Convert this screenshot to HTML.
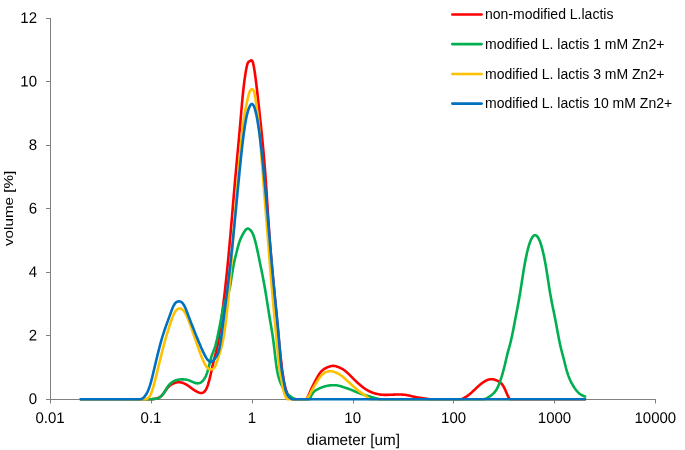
<!DOCTYPE html>
<html><head><meta charset="utf-8"><title>chart</title>
<style>html,body{margin:0;padding:0;background:#fff}svg{display:block}text{font-family:"Liberation Sans",sans-serif;fill:#000}</style>
</head><body>
<svg width="685" height="450" viewBox="0 0 685 450">
<rect width="685" height="450" fill="#fff"/>
<path d="M50.5,18 V403.5" stroke="#808080" stroke-width="1" fill="none"/>
<path d="M46,399.5 H656" stroke="#808080" stroke-width="1" fill="none"/>
<path d="M46,335.5 H50.5" stroke="#808080" stroke-width="1"/>
<path d="M46,272.5 H50.5" stroke="#808080" stroke-width="1"/>
<path d="M46,208.5 H50.5" stroke="#808080" stroke-width="1"/>
<path d="M46,145.5 H50.5" stroke="#808080" stroke-width="1"/>
<path d="M46,81.5 H50.5" stroke="#808080" stroke-width="1"/>
<path d="M46,18.5 H50.5" stroke="#808080" stroke-width="1"/>
<path d="M151.5,399.5 V403.5" stroke="#808080" stroke-width="1"/>
<path d="M252.5,399.5 V403.5" stroke="#808080" stroke-width="1"/>
<path d="M353.5,399.5 V403.5" stroke="#808080" stroke-width="1"/>
<path d="M453.5,399.5 V403.5" stroke="#808080" stroke-width="1"/>
<path d="M554.5,399.5 V403.5" stroke="#808080" stroke-width="1"/>
<path d="M655.5,399.5 V403.5" stroke="#808080" stroke-width="1"/>
<path d="M452.3,14.5 H481.6" stroke="#FF0000" stroke-width="2.6" stroke-linecap="round"/>
<path d="M452.3,44.1 H481.6" stroke="#00B050" stroke-width="2.6" stroke-linecap="round"/>
<path d="M452.3,74.0 H481.6" stroke="#FFC000" stroke-width="2.6" stroke-linecap="round"/>
<path d="M452.3,103.6 H481.6" stroke="#0070C0" stroke-width="2.6" stroke-linecap="round"/>
<path d="M80.8,399.3 L150.0,399.3 150.5,399.3 151.0,399.2 151.5,399.2 152.0,399.2 152.5,399.1 153.0,399.1 153.5,399.0 154.0,399.0 154.5,398.9 155.0,398.8 155.5,398.8 156.0,398.7 156.5,398.5 157.0,398.4 157.5,398.2 158.0,398.0 158.5,397.8 159.0,397.6 159.5,397.3 160.0,396.9 160.5,396.6 161.0,396.1 161.5,395.7 162.0,395.2 162.5,394.6 163.0,394.1 163.5,393.4 164.0,392.8 164.5,392.1 165.0,391.3 165.5,390.6 166.0,389.9 166.5,389.2 167.0,388.5 167.5,387.9 168.0,387.3 168.5,386.8 169.0,386.3 169.5,385.8 170.0,385.4 170.5,385.1 171.0,384.7 171.5,384.4 172.0,384.2 172.5,383.9 173.0,383.7 173.5,383.4 174.0,383.2 174.5,383.0 175.0,382.9 175.5,382.7 176.0,382.6 176.5,382.5 177.0,382.4 177.5,382.3 178.0,382.3 178.5,382.3 179.0,382.3 179.5,382.3 180.0,382.3 180.5,382.4 181.0,382.5 181.5,382.6 182.0,382.7 182.5,382.8 183.0,383.0 183.5,383.2 184.0,383.4 184.5,383.6 185.0,383.9 185.5,384.1 186.0,384.4 186.5,384.7 187.0,385.0 187.5,385.3 188.0,385.7 188.5,386.0 189.0,386.4 189.5,386.7 190.0,387.1 190.5,387.4 191.0,387.8 191.5,388.2 192.0,388.5 192.5,388.9 193.0,389.3 193.5,389.6 194.0,389.9 194.5,390.3 195.0,390.6 195.5,390.9 196.0,391.2 196.5,391.5 197.0,391.7 197.5,392.0 198.0,392.2 198.5,392.4 199.0,392.6 199.5,392.8 200.0,392.9 200.5,393.0 201.0,393.0 201.5,393.0 202.0,392.9 202.5,392.8 203.0,392.6 203.5,392.4 204.0,392.0 204.5,391.5 205.0,391.0 205.5,390.3 206.0,389.4 206.5,388.4 207.0,387.3 207.5,386.0 208.0,384.6 208.5,383.0 209.0,381.2 209.5,379.3 210.0,377.3 210.5,375.2 211.0,373.0 211.5,370.7 212.0,368.4 212.5,366.1 213.0,363.9 213.5,361.8 214.0,359.8 214.5,357.9 215.0,356.1 215.5,354.2 216.0,352.3 216.5,350.2 217.0,348.0 217.5,345.5 218.0,342.7 218.5,339.7 219.0,336.5 219.5,333.2 220.0,329.6 220.5,326.0 221.0,322.3 221.5,318.5 222.0,314.6 222.5,310.7 223.0,306.8 223.5,302.7 224.0,298.6 224.5,294.4 225.0,290.0 225.5,285.5 226.0,280.9 226.5,276.1 227.0,271.3 227.5,266.3 228.0,261.2 228.5,256.0 229.0,250.6 229.5,245.2 230.0,239.6 230.5,234.0 231.0,228.3 231.5,222.4 232.0,216.6 232.5,210.7 233.0,204.7 233.5,198.8 234.0,192.9 234.5,187.1 235.0,181.4 235.5,175.8 236.0,170.2 236.5,164.8 237.0,159.4 237.5,154.0 238.0,148.6 238.5,143.2 239.0,137.8 239.5,132.2 240.0,126.6 240.5,120.8 241.0,115.0 241.5,109.1 242.0,103.4 242.5,98.0 243.0,93.0 243.5,88.4 244.0,84.1 244.5,80.2 245.0,76.6 245.5,73.4 246.0,70.4 246.5,67.7 247.0,65.5 247.5,63.8 248.0,62.6 248.5,61.9 249.0,61.6 249.5,61.3 250.0,61.1 250.5,60.7 251.0,60.4 251.5,60.3 252.0,60.6 252.5,61.4 253.0,62.8 253.5,65.0 254.0,67.6 254.5,70.6 255.0,74.0 255.5,77.7 256.0,81.6 256.5,85.7 257.0,90.0 257.5,94.4 258.0,98.9 258.5,103.5 259.0,108.0 259.5,112.7 260.0,117.3 260.5,122.0 261.0,126.7 261.5,131.5 262.0,136.3 262.5,141.3 263.0,146.5 263.5,151.9 264.0,157.6 264.5,163.6 265.0,169.9 265.5,176.6 266.0,183.7 266.5,191.2 267.0,199.0 267.5,206.8 268.0,214.6 268.5,222.3 269.0,229.7 269.5,236.8 270.0,243.4 270.5,249.7 271.0,255.7 271.5,261.4 272.0,266.9 272.5,272.3 273.0,277.5 273.5,282.7 274.0,287.9 274.5,293.2 275.0,298.5 275.5,303.8 276.0,309.2 276.5,314.6 277.0,320.0 277.5,325.3 278.0,330.6 278.5,335.8 279.0,341.0 279.5,346.0 280.0,350.9 280.5,355.6 281.0,360.2 281.5,364.5 282.0,368.6 282.5,372.4 283.0,375.8 283.5,378.9 284.0,381.7 284.5,384.1 285.0,386.3 285.5,388.2 286.0,389.9 286.5,391.4 287.0,392.8 287.5,393.9 288.0,394.9 288.5,395.8 289.0,396.5 289.5,397.1 290.0,397.6 290.5,398.1 291.0,398.4 291.5,398.7 292.0,398.9 292.5,399.1 293.0,399.3 L306.3,399.3 306.8,398.5 307.3,397.7 307.8,396.8 308.3,395.9 308.8,394.9 309.3,393.7 309.8,392.5 310.3,391.3 310.8,390.1 311.3,388.9 311.8,387.8 312.3,386.8 312.8,385.7 313.3,384.8 313.8,383.8 314.3,382.9 314.8,381.9 315.3,381.0 315.8,380.0 316.3,379.1 316.8,378.2 317.3,377.3 317.8,376.4 318.3,375.5 318.8,374.7 319.3,374.0 319.8,373.3 320.3,372.6 320.8,372.0 321.3,371.4 321.8,370.9 322.3,370.5 322.8,370.0 323.3,369.6 323.8,369.3 324.3,368.9 324.8,368.6 325.3,368.3 325.8,368.1 326.3,367.8 326.8,367.6 327.3,367.3 327.8,367.1 328.3,366.9 328.8,366.8 329.3,366.6 329.8,366.5 330.3,366.3 330.8,366.2 331.3,366.1 331.8,366.0 332.3,365.9 332.8,365.9 333.3,365.9 333.8,365.9 334.3,366.0 334.8,366.0 335.3,366.1 335.8,366.2 336.3,366.4 336.8,366.5 337.3,366.7 337.8,366.9 338.3,367.1 338.8,367.3 339.3,367.5 339.8,367.7 340.3,367.9 340.8,368.2 341.3,368.4 341.8,368.7 342.3,368.9 342.8,369.2 343.3,369.6 343.8,369.9 344.3,370.2 344.8,370.6 345.3,371.0 345.8,371.4 346.3,371.8 346.8,372.3 347.3,372.7 347.8,373.2 348.3,373.6 348.8,374.1 349.3,374.6 349.8,375.1 350.3,375.6 350.8,376.1 351.3,376.6 351.8,377.1 352.3,377.6 352.8,378.1 353.3,378.6 353.8,379.1 354.3,379.6 354.8,380.1 355.3,380.6 355.8,381.1 356.3,381.6 356.8,382.0 357.3,382.5 357.8,382.9 358.3,383.4 358.8,383.8 359.3,384.3 359.8,384.7 360.3,385.1 360.8,385.6 361.3,386.0 361.8,386.4 362.3,386.8 362.8,387.1 363.3,387.5 363.8,387.9 364.3,388.3 364.8,388.6 365.3,388.9 365.8,389.3 366.3,389.6 366.8,389.9 367.3,390.2 367.8,390.5 368.3,390.8 368.8,391.0 369.3,391.3 369.8,391.5 370.3,391.7 370.8,391.9 371.3,392.2 371.8,392.4 372.3,392.5 372.8,392.7 373.3,392.9 373.8,393.1 374.3,393.2 374.8,393.4 375.3,393.5 375.8,393.7 376.3,393.8 376.8,393.9 377.3,394.0 377.8,394.1 378.3,394.2 378.8,394.3 379.3,394.4 379.8,394.5 380.3,394.6 380.8,394.6 381.3,394.7 381.8,394.7 382.3,394.8 382.8,394.8 383.3,394.8 383.8,394.9 384.3,394.9 384.8,394.9 385.3,394.9 385.8,394.9 386.3,394.9 386.8,394.9 387.3,394.9 387.8,394.9 388.3,394.9 388.8,394.8 389.3,394.8 389.8,394.8 390.3,394.8 390.8,394.8 391.3,394.7 391.8,394.7 392.3,394.7 392.8,394.7 393.3,394.6 393.8,394.6 394.3,394.6 394.8,394.6 395.3,394.6 395.8,394.5 396.3,394.5 396.8,394.5 397.3,394.5 397.8,394.5 398.3,394.5 398.8,394.5 399.3,394.5 399.8,394.5 400.3,394.5 400.8,394.5 401.3,394.5 401.8,394.6 402.3,394.6 402.8,394.6 403.3,394.7 403.8,394.7 404.3,394.8 404.8,394.8 405.3,394.9 405.8,394.9 406.3,395.0 406.8,395.1 407.3,395.2 407.8,395.3 408.3,395.4 408.8,395.5 409.3,395.6 409.8,395.7 410.3,395.9 410.8,396.0 411.3,396.1 411.8,396.2 412.3,396.4 412.8,396.5 413.3,396.6 413.8,396.7 414.3,396.8 414.8,397.0 415.3,397.1 415.8,397.2 416.3,397.2 416.8,397.3 417.3,397.4 417.8,397.5 418.3,397.5 418.8,397.6 419.3,397.7 419.8,397.8 420.3,397.8 420.8,397.9 421.3,398.0 421.8,398.0 422.3,398.1 422.8,398.2 423.3,398.3 423.8,398.3 424.3,398.4 424.8,398.5 425.3,398.6 425.8,398.6 426.3,398.7 426.8,398.8 427.3,398.9 427.8,399.0 428.3,399.0 428.8,399.1 429.3,399.2 429.8,399.3 430.0,399.3 L461.5,399.3 462.0,399.0 462.5,398.8 463.0,398.5 463.5,398.3 464.0,398.0 464.5,397.7 465.0,397.4 465.5,397.1 466.0,396.8 466.5,396.5 467.0,396.2 467.5,395.9 468.0,395.5 468.5,395.1 469.0,394.7 469.5,394.3 470.0,393.9 470.5,393.5 471.0,393.1 471.5,392.6 472.0,392.2 472.5,391.7 473.0,391.2 473.5,390.7 474.0,390.3 474.5,389.8 475.0,389.3 475.5,388.8 476.0,388.4 476.5,387.9 477.0,387.4 477.5,386.9 478.0,386.5 478.5,386.0 479.0,385.6 479.5,385.2 480.0,384.7 480.5,384.3 481.0,383.9 481.5,383.5 482.0,383.2 482.5,382.8 483.0,382.5 483.5,382.1 484.0,381.8 484.5,381.5 485.0,381.2 485.5,380.9 486.0,380.6 486.5,380.4 487.0,380.2 487.5,380.0 488.0,379.8 488.5,379.6 489.0,379.5 489.5,379.4 490.0,379.3 490.5,379.2 491.0,379.2 491.5,379.2 492.0,379.2 492.5,379.3 493.0,379.3 493.5,379.4 494.0,379.5 494.5,379.6 495.0,379.8 495.5,380.0 496.0,380.2 496.5,380.4 497.0,380.6 497.5,380.8 498.0,381.1 498.5,381.4 499.0,381.7 499.5,382.0 500.0,382.4 500.5,382.8 501.0,383.2 501.5,383.7 502.0,384.3 502.5,384.9 503.0,385.6 503.5,386.4 504.0,387.3 504.5,388.3 505.0,389.4 505.5,390.5 506.0,391.7 506.5,392.8 507.0,394.0 507.5,395.1 508.0,396.1 508.5,397.1 509.0,398.0 509.5,398.8 509.8,399.3 L585.1,399.3" fill="none" stroke="#FF0000" stroke-width="2.6" stroke-linecap="round" stroke-linejoin="round"/>
<path d="M80.8,399.3 L150.0,399.3 150.5,399.3 151.0,399.2 151.5,399.2 152.0,399.1 152.5,399.1 153.0,399.1 153.5,399.0 154.0,399.0 154.5,398.9 155.0,398.9 155.5,398.8 156.0,398.8 156.5,398.7 157.0,398.6 157.5,398.4 158.0,398.3 158.5,398.1 159.0,397.8 159.5,397.6 160.0,397.2 160.5,396.8 161.0,396.4 161.5,395.9 162.0,395.4 162.5,394.8 163.0,394.2 163.5,393.4 164.0,392.7 164.5,391.9 165.0,391.0 165.5,390.2 166.0,389.3 166.5,388.5 167.0,387.7 167.5,387.0 168.0,386.3 168.5,385.6 169.0,385.0 169.5,384.5 170.0,384.0 170.5,383.5 171.0,383.1 171.5,382.7 172.0,382.3 172.5,382.0 173.0,381.7 173.5,381.4 174.0,381.1 174.5,380.9 175.0,380.6 175.5,380.5 176.0,380.3 176.5,380.1 177.0,380.0 177.5,379.9 178.0,379.7 178.5,379.7 179.0,379.6 179.5,379.5 180.0,379.5 180.5,379.4 181.0,379.4 181.5,379.4 182.0,379.4 182.5,379.4 183.0,379.4 183.5,379.4 184.0,379.4 184.5,379.5 185.0,379.5 185.5,379.6 186.0,379.6 186.5,379.7 187.0,379.8 187.5,379.9 188.0,380.1 188.5,380.2 189.0,380.4 189.5,380.6 190.0,380.8 190.5,381.0 191.0,381.2 191.5,381.4 192.0,381.6 192.5,381.9 193.0,382.1 193.5,382.3 194.0,382.5 194.5,382.7 195.0,382.9 195.5,383.0 196.0,383.2 196.5,383.3 197.0,383.3 197.5,383.4 198.0,383.3 198.5,383.3 199.0,383.2 199.5,383.1 200.0,382.9 200.5,382.6 201.0,382.3 201.5,382.0 202.0,381.6 202.5,381.1 203.0,380.6 203.5,380.0 204.0,379.3 204.5,378.6 205.0,377.7 205.5,376.8 206.0,375.7 206.5,374.4 207.0,373.1 207.5,371.5 208.0,369.9 208.5,368.0 209.0,366.0 209.5,363.9 210.0,361.9 210.5,359.9 211.0,358.1 211.5,356.4 212.0,355.0 212.5,353.6 213.0,352.4 213.5,351.1 214.0,349.8 214.5,348.5 215.0,347.0 215.5,345.3 216.0,343.4 216.5,341.4 217.0,339.2 217.5,336.9 218.0,334.5 218.5,332.1 219.0,329.6 219.5,327.1 220.0,324.5 220.5,321.9 221.0,319.2 221.5,316.6 222.0,314.0 222.5,311.5 223.0,309.1 223.5,306.8 224.0,304.8 224.5,303.1 225.0,301.5 225.5,300.2 226.0,298.9 226.5,297.7 227.0,296.6 227.5,295.4 228.0,294.2 228.5,292.8 229.0,291.1 229.5,289.2 230.0,286.9 230.5,284.1 231.0,280.8 231.5,277.4 232.0,274.1 232.5,271.2 233.0,268.3 233.5,265.6 234.0,263.0 234.5,260.6 235.0,258.5 235.5,256.4 236.0,254.5 236.5,252.5 237.0,250.5 237.5,248.6 238.0,246.7 238.5,244.9 239.0,243.2 239.5,241.7 240.0,240.3 240.5,239.0 241.0,237.8 241.5,236.8 242.0,235.8 242.5,234.9 243.0,234.0 243.5,233.1 244.0,232.2 244.5,231.4 245.0,230.7 245.5,230.0 246.0,229.5 246.5,229.1 247.0,228.8 247.5,228.6 248.0,228.6 248.5,228.7 249.0,229.0 249.5,229.3 250.0,229.7 250.5,230.2 251.0,230.8 251.5,231.4 252.0,232.2 252.5,233.1 253.0,234.2 253.5,235.5 254.0,237.0 254.5,238.6 255.0,240.4 255.5,242.3 256.0,244.3 256.5,246.4 257.0,248.6 257.5,250.9 258.0,253.3 258.5,255.7 259.0,258.1 259.5,260.5 260.0,263.0 260.5,265.4 261.0,267.9 261.5,270.3 262.0,272.8 262.5,275.3 263.0,277.9 263.5,280.5 264.0,283.2 264.5,286.0 265.0,288.8 265.5,291.8 266.0,294.8 266.5,297.9 267.0,301.1 267.5,304.3 268.0,307.4 268.5,310.6 269.0,313.7 269.5,316.8 270.0,319.8 270.5,322.7 271.0,325.6 271.5,328.6 272.0,331.7 272.5,334.9 273.0,338.3 273.5,342.0 274.0,346.0 274.5,350.3 275.0,354.7 275.5,359.1 276.0,363.2 276.5,366.8 277.0,369.9 277.5,372.5 278.0,374.8 278.5,376.7 279.0,378.5 279.5,380.0 280.0,381.5 280.5,382.7 281.0,383.9 281.5,385.0 282.0,386.0 282.5,387.0 283.0,387.9 283.5,388.8 284.0,389.7 284.5,390.5 285.0,391.2 285.5,391.9 286.0,392.5 286.5,393.1 287.0,393.5 287.5,394.0 288.0,394.4 288.5,394.8 289.0,395.2 289.5,395.6 290.0,396.0 290.5,396.4 291.0,396.8 291.5,397.2 292.0,397.5 292.5,397.9 293.0,398.2 293.5,398.5 294.0,398.7 294.5,398.8 295.0,399.0 295.5,399.1 296.0,399.2 296.5,399.3 L309.6,399.3 310.1,398.2 310.6,397.1 311.1,396.1 311.6,395.1 312.1,394.2 312.6,393.4 313.1,392.7 313.6,392.1 314.1,391.6 314.6,391.1 315.1,390.7 315.6,390.4 316.1,390.1 316.6,389.8 317.1,389.6 317.6,389.3 318.1,389.1 318.6,388.8 319.1,388.6 319.6,388.3 320.1,388.1 320.6,387.9 321.1,387.7 321.6,387.5 322.1,387.3 322.6,387.1 323.1,386.9 323.6,386.8 324.1,386.6 324.6,386.5 325.1,386.3 325.6,386.2 326.1,386.1 326.6,385.9 327.1,385.8 327.6,385.7 328.1,385.7 328.6,385.6 329.1,385.5 329.6,385.4 330.1,385.4 330.6,385.3 331.1,385.3 331.6,385.3 332.1,385.2 332.6,385.2 333.1,385.2 333.6,385.2 334.1,385.2 334.6,385.2 335.1,385.2 335.6,385.3 336.1,385.3 336.6,385.3 337.1,385.4 337.6,385.5 338.1,385.6 338.6,385.7 339.1,385.8 339.6,385.9 340.1,386.0 340.6,386.2 341.1,386.3 341.6,386.5 342.1,386.7 342.6,386.9 343.1,387.0 343.6,387.2 344.1,387.4 344.6,387.5 345.1,387.7 345.6,387.9 346.1,388.0 346.6,388.2 347.1,388.3 347.6,388.5 348.1,388.7 348.6,388.9 349.1,389.0 349.6,389.2 350.1,389.4 350.6,389.6 351.1,389.8 351.6,390.0 352.1,390.2 352.6,390.4 353.1,390.6 353.6,390.8 354.1,391.1 354.6,391.3 355.1,391.5 355.6,391.7 356.1,391.9 356.6,392.1 357.1,392.3 357.6,392.5 358.1,392.7 358.6,392.9 359.1,393.1 359.6,393.3 360.1,393.5 360.6,393.7 361.1,393.9 361.6,394.1 362.1,394.2 362.6,394.4 363.1,394.6 363.6,394.7 364.1,394.9 364.6,395.0 365.1,395.2 365.6,395.3 366.1,395.5 366.6,395.6 367.1,395.7 367.6,395.9 368.1,396.0 368.6,396.2 369.1,396.3 369.6,396.5 370.1,396.6 370.6,396.7 371.1,396.9 371.6,397.0 372.1,397.2 372.6,397.3 373.1,397.5 373.6,397.6 374.1,397.7 374.6,397.9 375.1,398.0 375.6,398.2 376.1,398.3 376.6,398.4 377.1,398.6 377.6,398.7 378.1,398.8 378.6,399.0 379.1,399.1 379.6,399.2 379.8,399.3 L483.5,399.3 484.0,399.2 484.5,399.1 485.0,399.0 485.5,398.8 486.0,398.6 486.5,398.4 487.0,398.1 487.5,397.8 488.0,397.5 488.5,397.1 489.0,396.8 489.5,396.5 490.0,396.1 490.5,395.8 491.0,395.4 491.5,395.1 492.0,394.7 492.5,394.3 493.0,393.9 493.5,393.4 494.0,392.9 494.5,392.3 495.0,391.7 495.5,391.0 496.0,390.3 496.5,389.5 497.0,388.6 497.5,387.6 498.0,386.6 498.5,385.4 499.0,384.3 499.5,383.0 500.0,381.6 500.5,380.2 501.0,378.7 501.5,377.2 502.0,375.5 502.5,373.8 503.0,372.0 503.5,370.2 504.0,368.3 504.5,366.3 505.0,364.3 505.5,362.1 506.0,360.0 506.5,357.8 507.0,355.7 507.5,353.6 508.0,351.6 508.5,349.8 509.0,348.1 509.5,346.4 510.0,344.5 510.5,342.5 511.0,340.4 511.5,338.2 512.0,335.9 512.5,333.4 513.0,330.9 513.5,328.4 514.0,325.8 514.5,323.2 515.0,320.6 515.5,318.0 516.0,315.4 516.5,312.8 517.0,310.2 517.5,307.6 518.0,304.9 518.5,302.2 519.0,299.5 519.5,296.6 520.0,293.6 520.5,290.5 521.0,287.3 521.5,284.1 522.0,280.8 522.5,277.6 523.0,274.4 523.5,271.2 524.0,268.2 524.5,265.3 525.0,262.5 525.5,259.9 526.0,257.4 526.5,255.1 527.0,252.8 527.5,250.7 528.0,248.7 528.5,246.9 529.0,245.2 529.5,243.6 530.0,242.2 530.5,240.9 531.0,239.7 531.5,238.7 532.0,237.8 532.5,237.0 533.0,236.4 533.5,235.9 534.0,235.5 534.5,235.3 535.0,235.2 535.5,235.2 536.0,235.4 536.5,235.7 537.0,236.2 537.5,236.8 538.0,237.5 538.5,238.3 539.0,239.3 539.5,240.4 540.0,241.6 540.5,243.0 541.0,244.5 541.5,246.2 542.0,248.0 542.5,249.9 543.0,252.0 543.5,254.1 544.0,256.4 544.5,258.9 545.0,261.4 545.5,264.1 546.0,267.0 546.5,270.0 547.0,273.2 547.5,276.4 548.0,279.7 548.5,282.9 549.0,286.2 549.5,289.4 550.0,292.4 550.5,295.3 551.0,298.1 551.5,300.7 552.0,303.2 552.5,305.7 553.0,308.2 553.5,310.6 554.0,313.0 554.5,315.5 555.0,318.0 555.5,320.6 556.0,323.3 556.5,326.0 557.0,328.7 557.5,331.4 558.0,334.1 558.5,336.8 559.0,339.3 559.5,341.8 560.0,344.2 560.5,346.4 561.0,348.5 561.5,350.5 562.0,352.4 562.5,354.3 563.0,356.1 563.5,358.0 564.0,360.0 564.5,362.0 565.0,364.0 565.5,366.0 566.0,368.0 566.5,369.8 567.0,371.6 567.5,373.2 568.0,374.7 568.5,376.1 569.0,377.4 569.5,378.6 570.0,379.7 570.5,380.8 571.0,381.8 571.5,382.8 572.0,383.7 572.5,384.6 573.0,385.5 573.5,386.3 574.0,387.1 574.5,387.9 575.0,388.6 575.5,389.3 576.0,389.9 576.5,390.6 577.0,391.2 577.5,391.7 578.0,392.3 578.5,392.8 579.0,393.2 579.5,393.7 580.0,394.1 580.5,394.4 581.0,394.7 581.5,395.0 582.0,395.3 582.5,395.5 583.0,395.7 583.5,396.0 584.0,396.2 584.5,396.4 585.0,396.6 585.1,396.6" fill="none" stroke="#00B050" stroke-width="2.6" stroke-linecap="round" stroke-linejoin="round"/>
<path d="M80.8,399.3 L144.0,399.3 144.5,399.3 145.0,399.2 145.5,399.1 146.0,399.1 146.5,398.9 147.0,398.7 147.5,398.5 148.0,398.1 148.5,397.7 149.0,397.2 149.5,396.5 150.0,395.7 150.5,394.8 151.0,393.8 151.5,392.5 152.0,391.2 152.5,389.6 153.0,388.0 153.5,386.3 154.0,384.4 154.5,382.5 155.0,380.6 155.5,378.6 156.0,376.6 156.5,374.6 157.0,372.5 157.5,370.5 158.0,368.5 158.5,366.5 159.0,364.4 159.5,362.4 160.0,360.4 160.5,358.4 161.0,356.4 161.5,354.3 162.0,352.3 162.5,350.3 163.0,348.3 163.5,346.4 164.0,344.5 164.5,342.6 165.0,340.8 165.5,339.1 166.0,337.4 166.5,335.7 167.0,334.0 167.5,332.4 168.0,330.8 168.5,329.2 169.0,327.6 169.5,326.0 170.0,324.5 170.5,323.0 171.0,321.5 171.5,320.1 172.0,318.7 172.5,317.4 173.0,316.1 173.5,314.9 174.0,313.9 174.5,312.9 175.0,312.0 175.5,311.3 176.0,310.6 176.5,310.0 177.0,309.6 177.5,309.2 178.0,308.9 178.5,308.7 179.0,308.6 179.5,308.5 180.0,308.5 180.5,308.6 181.0,308.7 181.5,309.0 182.0,309.3 182.5,309.6 183.0,310.1 183.5,310.6 184.0,311.2 184.5,311.9 185.0,312.7 185.5,313.6 186.0,314.6 186.5,315.6 187.0,316.7 187.5,317.8 188.0,319.0 188.5,320.3 189.0,321.6 189.5,322.9 190.0,324.2 190.5,325.6 191.0,327.0 191.5,328.4 192.0,329.8 192.5,331.3 193.0,332.7 193.5,334.2 194.0,335.6 194.5,337.0 195.0,338.5 195.5,339.9 196.0,341.4 196.5,342.8 197.0,344.3 197.5,345.7 198.0,347.1 198.5,348.6 199.0,350.0 199.5,351.3 200.0,352.7 200.5,354.1 201.0,355.4 201.5,356.7 202.0,357.9 202.5,359.1 203.0,360.3 203.5,361.4 204.0,362.5 204.5,363.5 205.0,364.4 205.5,365.3 206.0,366.0 206.5,366.7 207.0,367.3 207.5,367.8 208.0,368.3 208.5,368.6 209.0,368.9 209.5,369.1 210.0,369.3 210.5,369.4 211.0,369.4 211.5,369.4 212.0,369.3 212.5,369.1 213.0,368.8 213.5,368.4 214.0,367.9 214.5,367.3 215.0,366.5 215.5,365.6 216.0,364.5 216.5,363.2 217.0,361.8 217.5,360.2 218.0,358.6 218.5,357.0 219.0,355.3 219.5,353.6 220.0,352.0 220.5,350.4 221.0,348.8 221.5,347.1 222.0,345.2 222.5,343.0 223.0,340.6 223.5,337.9 224.0,335.0 224.5,331.7 225.0,328.3 225.5,324.5 226.0,320.5 226.5,316.3 227.0,311.8 227.5,307.0 228.0,302.0 228.5,296.7 229.0,291.1 229.5,285.3 230.0,279.3 230.5,273.1 231.0,266.7 231.5,260.3 232.0,253.7 232.5,247.1 233.0,240.5 233.5,234.0 234.0,227.5 234.5,221.2 235.0,214.8 235.5,208.6 236.0,202.4 236.5,196.2 237.0,190.1 237.5,184.0 238.0,178.0 238.5,172.0 239.0,166.0 239.5,160.2 240.0,154.5 240.5,148.9 241.0,143.6 241.5,138.5 242.0,133.7 242.5,129.2 243.0,125.0 243.5,121.3 244.0,117.9 244.5,114.9 245.0,112.1 245.5,109.5 246.0,107.0 246.5,104.5 247.0,102.0 247.5,99.6 248.0,97.3 248.5,95.2 249.0,93.5 249.5,92.1 250.0,91.0 250.5,90.2 251.0,89.7 251.5,89.4 252.0,89.3 252.5,89.3 253.0,89.7 253.5,90.4 254.0,91.7 254.5,93.5 255.0,96.0 255.5,99.0 256.0,102.4 256.5,106.0 257.0,109.7 257.5,113.5 258.0,117.5 258.5,122.0 259.0,126.9 259.5,132.3 260.0,138.0 260.5,144.1 261.0,150.4 261.5,156.8 262.0,163.4 262.5,170.1 263.0,176.7 263.5,183.2 264.0,189.7 264.5,196.1 265.0,202.4 265.5,208.8 266.0,215.1 266.5,221.4 267.0,227.7 267.5,234.0 268.0,240.4 268.5,246.8 269.0,253.2 269.5,259.5 270.0,265.8 270.5,272.0 271.0,278.2 271.5,284.2 272.0,290.0 272.5,295.7 273.0,301.2 273.5,306.6 274.0,311.9 274.5,317.2 275.0,322.4 275.5,327.7 276.0,333.0 276.5,338.3 277.0,343.8 277.5,349.4 278.0,354.9 278.5,360.1 279.0,364.7 279.5,368.5 280.0,371.6 280.5,374.4 281.0,377.1 281.5,379.9 282.0,382.8 282.5,385.6 283.0,388.2 283.5,390.5 284.0,392.4 284.5,394.1 285.0,395.4 285.5,396.5 286.0,397.4 286.5,398.1 287.0,398.7 287.5,399.3 L306.3,399.3 306.8,398.7 307.3,398.1 307.8,397.5 308.3,396.8 308.8,396.0 309.3,395.2 309.8,394.3 310.3,393.3 310.8,392.4 311.3,391.4 311.8,390.5 312.3,389.6 312.8,388.7 313.3,387.9 313.8,387.0 314.3,386.1 314.8,385.3 315.3,384.5 315.8,383.6 316.3,382.8 316.8,382.0 317.3,381.2 317.8,380.4 318.3,379.6 318.8,378.8 319.3,378.1 319.8,377.4 320.3,376.8 320.8,376.1 321.3,375.6 321.8,375.0 322.3,374.5 322.8,374.1 323.3,373.7 323.8,373.3 324.3,373.0 324.8,372.7 325.3,372.4 325.8,372.1 326.3,371.9 326.8,371.7 327.3,371.6 327.8,371.5 328.3,371.4 328.8,371.3 329.3,371.2 329.8,371.2 330.3,371.2 330.8,371.2 331.3,371.3 331.8,371.3 332.3,371.4 332.8,371.5 333.3,371.6 333.8,371.8 334.3,371.9 334.8,372.1 335.3,372.3 335.8,372.5 336.3,372.7 336.8,373.0 337.3,373.2 337.8,373.5 338.3,373.7 338.8,374.0 339.3,374.3 339.8,374.6 340.3,375.0 340.8,375.3 341.3,375.7 341.8,376.0 342.3,376.4 342.8,376.8 343.3,377.2 343.8,377.6 344.3,378.1 344.8,378.5 345.3,379.0 345.8,379.4 346.3,379.9 346.8,380.3 347.3,380.8 347.8,381.3 348.3,381.7 348.8,382.2 349.3,382.7 349.8,383.1 350.3,383.6 350.8,384.0 351.3,384.5 351.8,384.9 352.3,385.4 352.8,385.8 353.3,386.3 353.8,386.7 354.3,387.2 354.8,387.6 355.3,388.0 355.8,388.5 356.3,388.9 356.8,389.3 357.3,389.7 357.8,390.2 358.3,390.6 358.8,391.0 359.3,391.4 359.8,391.7 360.3,392.1 360.8,392.5 361.3,392.8 361.8,393.2 362.3,393.5 362.8,393.9 363.3,394.2 363.8,394.6 364.3,394.9 364.8,395.2 365.3,395.6 365.8,396.0 366.3,396.4 366.8,396.7 367.3,397.2 367.8,397.6 368.3,398.0 368.8,398.4 369.3,398.9 369.8,399.3 L585.1,399.3" fill="none" stroke="#FFC000" stroke-width="2.6" stroke-linecap="round" stroke-linejoin="round"/>
<path d="M80.8,399.3 L139.0,399.3 139.5,399.3 140.0,399.2 140.5,399.2 141.0,399.1 141.5,398.9 142.0,398.7 142.5,398.4 143.0,398.1 143.5,397.7 144.0,397.2 144.5,396.7 145.0,396.0 145.5,395.3 146.0,394.6 146.5,393.7 147.0,392.8 147.5,391.8 148.0,390.7 148.5,389.5 149.0,388.2 149.5,386.8 150.0,385.3 150.5,383.6 151.0,381.9 151.5,380.0 152.0,378.1 152.5,376.0 153.0,374.0 153.5,371.8 154.0,369.7 154.5,367.6 155.0,365.5 155.5,363.4 156.0,361.3 156.5,359.2 157.0,357.2 157.5,355.1 158.0,353.1 158.5,351.1 159.0,349.1 159.5,347.1 160.0,345.3 160.5,343.4 161.0,341.6 161.5,339.9 162.0,338.2 162.5,336.5 163.0,334.9 163.5,333.3 164.0,331.8 164.5,330.2 165.0,328.8 165.5,327.3 166.0,325.9 166.5,324.5 167.0,323.1 167.5,321.7 168.0,320.4 168.5,319.0 169.0,317.6 169.5,316.3 170.0,314.9 170.5,313.5 171.0,312.1 171.5,310.8 172.0,309.5 172.5,308.2 173.0,307.0 173.5,306.0 174.0,305.0 174.5,304.2 175.0,303.5 175.5,302.9 176.0,302.4 176.5,302.1 177.0,301.8 177.5,301.6 178.0,301.5 178.5,301.4 179.0,301.4 179.5,301.4 180.0,301.5 180.5,301.7 181.0,301.9 181.5,302.2 182.0,302.6 182.5,303.1 183.0,303.7 183.5,304.4 184.0,305.2 184.5,306.1 185.0,307.2 185.5,308.3 186.0,309.5 186.5,310.7 187.0,312.0 187.5,313.3 188.0,314.6 188.5,316.0 189.0,317.3 189.5,318.6 190.0,319.9 190.5,321.2 191.0,322.5 191.5,323.7 192.0,325.0 192.5,326.3 193.0,327.6 193.5,328.8 194.0,330.1 194.5,331.4 195.0,332.6 195.5,333.9 196.0,335.1 196.5,336.4 197.0,337.6 197.5,338.8 198.0,340.0 198.5,341.2 199.0,342.5 199.5,343.6 200.0,344.8 200.5,346.0 201.0,347.2 201.5,348.3 202.0,349.4 202.5,350.5 203.0,351.6 203.5,352.7 204.0,353.7 204.5,354.7 205.0,355.6 205.5,356.5 206.0,357.4 206.5,358.2 207.0,358.9 207.5,359.6 208.0,360.2 208.5,360.7 209.0,361.2 209.5,361.5 210.0,361.8 210.5,361.9 211.0,361.9 211.5,361.8 212.0,361.6 212.5,361.2 213.0,360.8 213.5,360.3 214.0,359.8 214.5,359.2 215.0,358.5 215.5,357.8 216.0,357.1 216.5,356.3 217.0,355.4 217.5,354.4 218.0,353.2 218.5,351.8 219.0,350.1 219.5,348.0 220.0,345.4 220.5,342.5 221.0,339.3 221.5,335.7 222.0,331.9 222.5,328.0 223.0,324.0 223.5,320.0 224.0,316.0 224.5,312.1 225.0,308.2 225.5,304.3 226.0,300.4 226.5,296.4 227.0,292.4 227.5,288.4 228.0,284.3 228.5,280.1 229.0,275.8 229.5,271.5 230.0,267.0 230.5,262.6 231.0,258.0 231.5,253.3 232.0,248.6 232.5,243.8 233.0,239.0 233.5,234.0 234.0,229.0 234.5,223.9 235.0,218.7 235.5,213.5 236.0,208.3 236.5,203.0 237.0,197.8 237.5,192.5 238.0,187.3 238.5,182.1 239.0,177.0 239.5,171.9 240.0,166.9 240.5,162.0 241.0,157.2 241.5,152.5 242.0,148.0 242.5,143.7 243.0,139.5 243.5,135.5 244.0,131.8 244.5,128.3 245.0,125.0 245.5,122.0 246.0,119.3 246.5,116.8 247.0,114.6 247.5,112.7 248.0,110.9 248.5,109.4 249.0,108.0 249.5,106.8 250.0,105.8 250.5,104.9 251.0,104.3 251.5,104.0 252.0,103.9 252.5,104.1 253.0,104.6 253.5,105.4 254.0,106.4 254.5,107.7 255.0,109.3 255.5,111.1 256.0,113.2 256.5,115.5 257.0,118.0 257.5,120.8 258.0,123.8 258.5,127.0 259.0,130.5 259.5,134.1 260.0,137.9 260.5,142.0 261.0,146.2 261.5,150.5 262.0,155.1 262.5,159.8 263.0,164.7 263.5,169.7 264.0,174.8 264.5,180.1 265.0,185.6 265.5,191.1 266.0,196.7 266.5,202.4 267.0,208.2 267.5,214.0 268.0,219.9 268.5,225.8 269.0,231.7 269.5,237.5 270.0,243.4 270.5,249.2 271.0,254.9 271.5,260.6 272.0,266.2 272.5,271.8 273.0,277.3 273.5,282.7 274.0,287.9 274.5,293.1 275.0,298.1 275.5,303.1 276.0,308.1 276.5,313.1 277.0,318.2 277.5,323.4 278.0,328.7 278.5,334.2 279.0,340.0 279.5,346.0 280.0,352.2 280.5,358.3 281.0,363.7 281.5,368.1 282.0,371.6 282.5,374.5 283.0,377.1 283.5,379.8 284.0,382.5 284.5,385.1 285.0,387.5 285.5,389.6 286.0,391.4 286.5,392.8 287.0,394.0 287.5,395.0 288.0,395.8 288.5,396.5 289.0,397.1 289.5,397.6 290.0,398.0 290.5,398.3 291.0,398.6 291.5,398.9 292.0,399.2 292.3,399.3 L585.1,399.3" fill="none" stroke="#0070C0" stroke-width="2.6" stroke-linecap="round" stroke-linejoin="round"/>
<text transform="translate(37,403.9) rotate(0.05) scale(0.975,1)" text-anchor="end" font-size="15.4">0</text>
<text transform="translate(37,340.4) rotate(0.05) scale(0.975,1)" text-anchor="end" font-size="15.4">2</text>
<text transform="translate(37,276.9) rotate(0.05) scale(0.975,1)" text-anchor="end" font-size="15.4">4</text>
<text transform="translate(37,213.5) rotate(0.05) scale(0.975,1)" text-anchor="end" font-size="15.4">6</text>
<text transform="translate(37,150.0) rotate(0.05) scale(0.975,1)" text-anchor="end" font-size="15.4">8</text>
<text transform="translate(37,86.5) rotate(0.05) scale(0.975,1)" text-anchor="end" font-size="15.4">10</text>
<text transform="translate(37,23.0) rotate(0.05) scale(0.975,1)" text-anchor="end" font-size="15.4">12</text>
<text transform="translate(50.1,423) rotate(0.05) scale(0.975,1)" text-anchor="middle" font-size="15.4">0.01</text>
<text transform="translate(151.0,423) rotate(0.05) scale(0.975,1)" text-anchor="middle" font-size="15.4">0.1</text>
<text transform="translate(251.8,423) rotate(0.05) scale(0.975,1)" text-anchor="middle" font-size="15.4">1</text>
<text transform="translate(352.7,423) rotate(0.05) scale(0.975,1)" text-anchor="middle" font-size="15.4">10</text>
<text transform="translate(453.6,423) rotate(0.05) scale(0.975,1)" text-anchor="middle" font-size="15.4">100</text>
<text transform="translate(554.5,423) rotate(0.05) scale(0.975,1)" text-anchor="middle" font-size="15.4">1000</text>
<text transform="translate(655.3,423) rotate(0.05) scale(0.975,1)" text-anchor="middle" font-size="15.4">10000</text>
<text transform="translate(353.2,444.9) rotate(0.05) scale(0.98,1)" text-anchor="middle" font-size="15.6">diameter [um]</text>
<text transform="translate(13.2,208.4) rotate(-90) scale(0.975,0.84)" text-anchor="middle" font-size="15.6">volume [%]</text>
<text x="485" y="19.0" font-size="14">non-modified L.lactis</text>
<text x="485" y="48.6" font-size="14">modified L. lactis 1 mM Zn2+</text>
<text x="485" y="78.5" font-size="14">modified L. lactis 3 mM Zn2+</text>
<text x="485" y="108.1" font-size="14">modified L. lactis 10 mM Zn2+</text>
</svg>
</body></html>
